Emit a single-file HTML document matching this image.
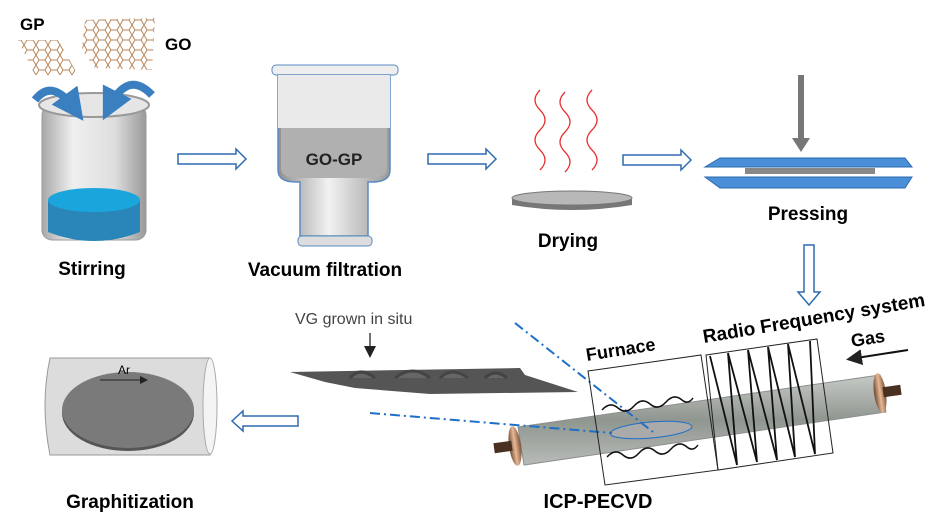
<!DOCTYPE html>
<html><head><meta charset="utf-8"><style>
html,body{margin:0;padding:0;background:#fff;}
svg{display:block;font-family:"Liberation Sans",Arial,sans-serif;}
</style></head><body>
<svg width="938" height="521" viewBox="0 0 938 521" xmlns="http://www.w3.org/2000/svg">
<defs>
<linearGradient id="glass" x1="0" x2="1" y1="0" y2="0">
<stop offset="0" stop-color="#9a9a9a"/><stop offset="0.3" stop-color="#eeeeee"/><stop offset="0.7" stop-color="#d8d8d8"/><stop offset="1" stop-color="#888"/></linearGradient>
<linearGradient id="metal" x1="0" x2="1"><stop offset="0" stop-color="#8f8f8f"/><stop offset="0.45" stop-color="#f2f2f2"/><stop offset="1" stop-color="#9a9a9a"/></linearGradient>
<linearGradient id="tube" x1="0" x2="0" y1="0" y2="1"><stop offset="0" stop-color="#c4c8c4"/><stop offset="0.5" stop-color="#8a908a"/><stop offset="1" stop-color="#b4b8b4"/></linearGradient>
<linearGradient id="copper" x1="0" x2="1"><stop offset="0" stop-color="#6a4a30"/><stop offset="0.5" stop-color="#e8b896"/><stop offset="1" stop-color="#7a5438"/></linearGradient>
<marker id="ah" markerWidth="8" markerHeight="8" refX="6" refY="4" orient="auto"><path d="M0,0 L8,4 L0,8 z" fill="#222"/></marker>
<marker id="bh" markerWidth="4" markerHeight="4" refX="2" refY="2" orient="auto"><path d="M0,0 L4,2 L0,4 z" fill="#3a7fbf"/></marker>
<pattern id="hex" width="12" height="10" patternUnits="userSpaceOnUse"><path d="M3,0 L9,0 L12,5 L9,10 L3,10 L0,5 Z" fill="none" stroke="#b8865a" stroke-width="1"/></pattern>
</defs>

<text x="20" y="30" font-size="17" font-weight="bold">GP</text>
<text x="165" y="50" font-size="17" font-weight="bold">GO</text>
<polygon points="18,40 58,40 78,75 35,75" fill="url(#hex)"/>
<polygon points="85,20 155,18 152,70 95,68 82,50" fill="url(#hex)"/>

<rect x="42" y="105" width="104" height="135" rx="10" fill="url(#glass)" opacity="0.85" stroke="#888"/>
<ellipse cx="94" cy="105" rx="55" ry="12" fill="#e6e6e6" stroke="#999" stroke-width="2"/>
<path d="M48,200 L48,232 Q94,250 140,232 L140,200 Z" fill="#2a86b8"/>
<ellipse cx="94" cy="200" rx="46" ry="12" fill="#1aa6dc"/>
<path d="M35,100 Q52,78 74,108" fill="none" stroke="#3a7fbf" stroke-width="8" marker-end="url(#bh)"/>
<path d="M152,95 Q128,70 110,106" fill="none" stroke="#3a7fbf" stroke-width="8" marker-end="url(#bh)"/>
<text x="92" y="275" font-size="19" font-weight="bold" text-anchor="middle">Stirring</text>

<g fill="#fff" stroke="#2e6bb0" stroke-width="1.5">
<path d="M178,154 L236,154 L236,149 L246,159 L236,169 L236,164 L178,164 Z"/>
<path d="M428,154 L486,154 L486,149 L496,159 L486,169 L486,164 L428,164 Z"/>
<path d="M623,155 L681,155 L681,150 L691,160 L681,170 L681,165 L623,165 Z"/>
<path d="M804,245 L804,292 L798,292 L809,305 L820,292 L814,292 L814,245 Z"/>
<path d="M298,416 L243,416 L243,411 L232,421 L243,431 L243,426 L298,426 Z"/>
</g>

<rect x="272" y="65" width="126" height="10" rx="4" fill="#eee" stroke="#5a8ac0"/>
<path d="M278,75 L390,75 L390,170 Q390,182 372,182 L368,182 L368,236 L300,236 L300,182 L296,182 Q278,182 278,170 Z" fill="url(#metal)" stroke="#5a8ac0" stroke-width="1.5"/>
<path d="M278,75 L390,75 L390,128 L278,128 Z" fill="#eaeaea"/>
<path d="M281,128 L387,128 L387,168 Q387,178 370,178 L298,178 Q281,178 281,168 Z" fill="#b0b0b0"/>
<text x="334" y="165" font-size="17" font-weight="bold" text-anchor="middle" fill="#222">GO-GP</text>
<rect x="298" y="236" width="74" height="10" rx="4" fill="#ddd" stroke="#5a8ac0"/>
<text x="325" y="276" font-size="19" font-weight="bold" text-anchor="middle">Vacuum filtration</text>

<g fill="none" stroke="#e83030" stroke-width="1.3">
<path d="M540,90 q-10,10 0,20 q10,10 0,20 q-10,10 0,20 q10,10 0,20"/>
<path d="M565,92 q-10,10 0,20 q10,10 0,20 q-10,10 0,20 q10,10 0,20"/>
<path d="M592,90 q-10,10 0,20 q10,10 0,20 q-10,10 0,20 q10,10 0,20"/>
</g>
<path d="M512,198 L512,205 Q572,215 632,205 L632,198 Z" fill="#777"/>
<ellipse cx="572" cy="198" rx="60" ry="7" fill="#b8b8b8" stroke="#777"/>
<text x="568" y="247" font-size="19" font-weight="bold" text-anchor="middle">Drying</text>

<rect x="798" y="75" width="6" height="65" fill="#777"/>
<path d="M792,138 L810,138 L801,152 Z" fill="#777"/>
<polygon points="720,158 905,158 912,167 705,167" fill="#4a8fd8" stroke="#2a6ab0"/>
<rect x="745" y="168" width="130" height="6" fill="#888"/>
<polygon points="705,177 912,177 905,188 720,188" fill="#4a8fd8" stroke="#2a6ab0"/>
<text x="808" y="220" font-size="19" font-weight="bold" text-anchor="middle">Pressing</text>

<path d="M50,358 L210,358 Q220,405 210,455 L50,455 Q40,405 50,358 Z" fill="#dcdcdc" stroke="#999"/>
<ellipse cx="210" cy="406" rx="7" ry="48" fill="#f4f4f4" stroke="#aaa"/>
<ellipse cx="128" cy="413" rx="66" ry="38" fill="#555"/>
<ellipse cx="128" cy="410" rx="66" ry="38" fill="#7a7a7a"/>
<text x="118" y="374" font-size="12">Ar</text>
<line x1="100" y1="380" x2="146" y2="380" stroke="#222" marker-end="url(#ah)"/>
<text x="130" y="508" font-size="19" font-weight="bold" text-anchor="middle">Graphitization</text>

<text x="295" y="324" font-size="16" fill="#444">VG grown in situ</text>
<line x1="370" y1="333" x2="370" y2="355" stroke="#444" stroke-width="1.5" marker-end="url(#ah)"/>
<polygon points="290,372 520,368 525,375 578,392 430,394 355,388 325,382" fill="#555"/>
<path d="M350,378 q10,-12 25,0 M395,378 q18,-14 35,0 M440,378 q12,-12 28,0 M485,378 q10,-10 22,0" fill="#666" stroke="#444" stroke-width="3"/>

<polygon points="518,427 880,375 886,412 524,465" fill="url(#tube)" opacity="0.95" stroke="#888"/>
<ellipse cx="515" cy="446" rx="6" ry="20" fill="url(#copper)" transform="rotate(-8 515 446)"/>
<rect x="494" y="442" width="18" height="10" fill="#4a3020" transform="rotate(-8 503 447)"/>
<ellipse cx="880" cy="393" rx="6" ry="20" fill="url(#copper)" transform="rotate(-8 880 393)"/>
<rect x="883" y="386" width="18" height="10" fill="#4a3020" transform="rotate(-8 892 391)"/>
<ellipse cx="651" cy="430" rx="41" ry="8" fill="#aaa" stroke="#1e6fc8" transform="rotate(-5 651 430)"/>

<g stroke="#1e6fc8" stroke-width="2" stroke-dasharray="10,4,2,4" fill="none">
<line x1="515" y1="323" x2="653" y2="432"/>
<line x1="370" y1="413" x2="612" y2="433"/>
</g>

<polygon points="588,371 701,355 718,470 605,485" fill="none" stroke="#222"/>
<g fill="none" stroke="#111" stroke-width="1.5">
<path d="M602,410 q8,-9 16,-2 q8,7 16,-2 q8,-9 16,-2 q8,7 16,-2 q8,-9 16,-2 q6,5 11,-2"/>
<path d="M607,457 q8,-9 16,-2 q8,7 16,-2 q8,-9 16,-2 q8,7 16,-2 q8,-9 16,-2 q6,5 11,-2"/>
</g>
<text x="0" y="0" font-size="18" font-weight="bold" transform="translate(587,361) rotate(-9)">Furnace</text>

<polygon points="706,355 817,339 833,453 718,470" fill="none" stroke="#222"/>
<polyline points="710,356 737,465 728,353 757,462 748,350 777,460 768,347 795,457 788,344 815,454 810,341" fill="none" stroke="#111" stroke-width="1.8"/>
<text x="0" y="0" font-size="19" font-weight="bold" transform="translate(704,343) rotate(-9.5)">Radio Frequency system</text>
<text x="0" y="0" font-size="18" font-weight="bold" transform="translate(852,347) rotate(-9)">Gas</text>
<line x1="908" y1="350" x2="850" y2="359" stroke="#111" stroke-width="2" marker-end="url(#ah)"/>
<text x="598" y="508" font-size="20" font-weight="bold" text-anchor="middle">ICP-PECVD</text>
</svg>
</body></html>
